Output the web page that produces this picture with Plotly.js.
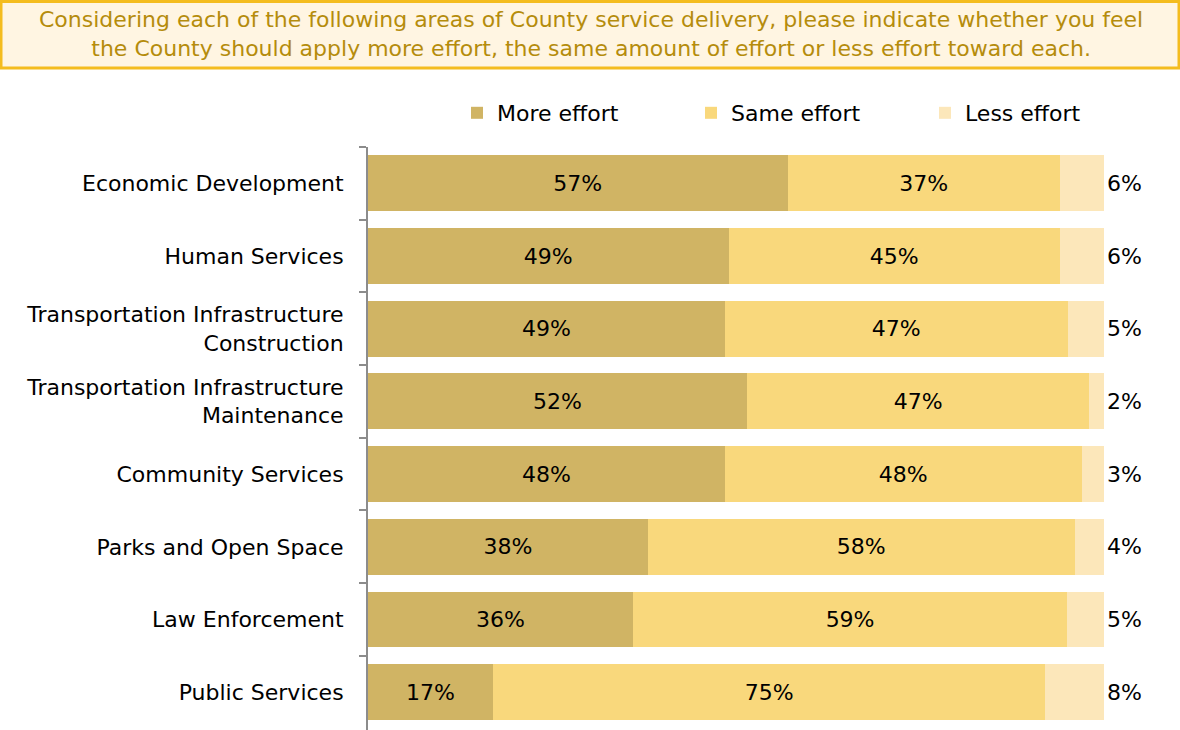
<!DOCTYPE html>
<html>
<head>
<meta charset="utf-8">
<script src="https://cdn.plot.ly/plotly-3.0.1.min.js"></script>
<style>html,body{margin:0;padding:0;background:#fff;}#chart{width:1180px;height:730px;}</style>
</head>
<body>
<div id="chart"></div>
<script>
const categories = ["Economic Development","Human Services","Transportation Infrastructure<br>Construction","Transportation Infrastructure<br>Maintenance","Community Services","Parks and Open Space","Law Enforcement","Public Services"];
const moreEffort = [57,49,49,52,48,38,36,17];
const sameEffort = [37,45,47,47,48,58,59,75];
const lessEffort = [6,6,5,2,3,4,5,8];
const seriesNames = ["More effort","Same effort","Less effort"];
const questionText = "Considering each of the following areas of County service delivery, please indicate whether you feel<br>the County should apply more effort, the same amount of effort or less effort toward each.";

const W = 1180, H = 730;
const M = {l:368, r:76, t:147, b:0};
const PW = W - M.l - M.r, PH = H - M.t - M.b;
const px = x => (x - M.l) / PW;
const py = y => 1 - (y - M.t) / PH;

const FONT = "DejaVu Sans, Verdana, sans-serif";
const pct = a => a.map(v => v + "%");

const mk = (vals, name, color, pos) => ({
  type: "bar", orientation: "h", y: categories, x: vals, name: name,
  marker: {color: color, line: {width: 0}},
  text: pct(vals), textposition: pos, insidetextanchor: "middle",
  textfont: {family: FONT, size: 22, color: "#000"},
  outsidetextfont: {family: FONT, size: 22, color: "#000"},
  constraintext: "none", cliponaxis: false, hoverinfo: "skip"
});

const data = [
  mk(moreEffort, seriesNames[0], "#D0B464", "inside"),
  mk(sameEffort, seriesNames[1], "#F9D87C", "inside"),
  mk(lessEffort, seriesNames[2], "#FCE7BA", "outside")
];

const layout = {
  width: W, height: H,
  margin: M,
  paper_bgcolor: "#fff", plot_bgcolor: "#fff",
  barmode: "stack", barnorm: "percent", bargap: 0.23,
  font: {family: FONT, size: 22, color: "#000"},
  showlegend: true,
  legend: {orientation: "h", x: px(457), xanchor: "left", y: py(113), yanchor: "middle",
    font: {family: FONT, size: 22, color: "#000"}, entrywidth: 189, entrywidthmode: "pixels",
    traceorder: "normal", bgcolor: "rgba(0,0,0,0)"},
  xaxis: {range: [0, 100], visible: false, fixedrange: true},
  yaxis: {type: "category", range: [categories.length - 0.5 + 0.02, -0.5],
    showline: true, linecolor: "#8c8c8c", linewidth: 2,
    ticks: "outside", tickson: "boundaries", ticklen: 7, tickcolor: "#8c8c8c", tickwidth: 2,
    showgrid: false, zeroline: false, ticklabelstandoff: 18,
    tickfont: {family: FONT, size: 22, color: "#000"}},
  shapes: [{type: "rect", xref: "paper", yref: "paper",
    x0: px(1), x1: px(1179), y0: py(1.5), y1: py(68),
    fillcolor: "#FFF5E2", line: {color: "#F4BC1E", width: 3}, layer: "below"}],
  annotations: [{xref: "paper", yref: "paper", x: px(591), y: py(34), xanchor: "center", yanchor: "middle",
    text: questionText, showarrow: false, align: "center",
    font: {family: FONT, size: 22, color: "#B58C0C"}}]
};

Plotly.newPlot("chart", data, layout, {displayModeBar: false, staticPlot: true});
</script>
</body>
</html>
